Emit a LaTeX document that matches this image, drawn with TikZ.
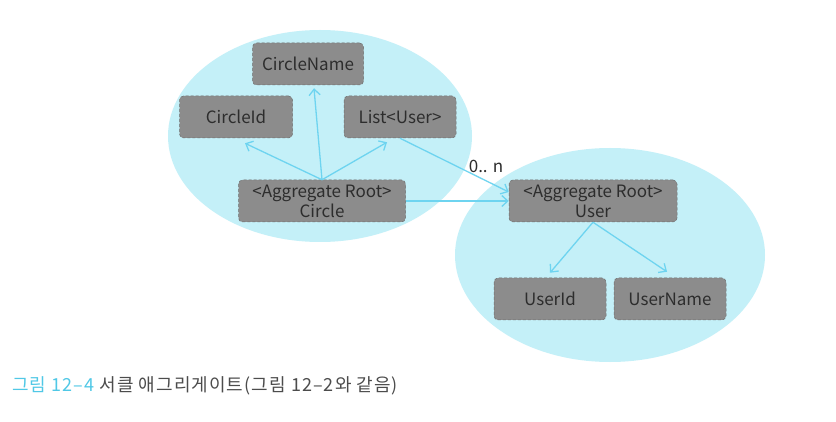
\documentclass[tikz,border=0pt]{standalone}
\usepackage{fontspec}
\setmainfont{Noto Sans CJK KR}
\newfontfamily\captionfont{Noto Sans CJK KR}[LetterSpace=6]
\usetikzlibrary{arrows.meta}
\definecolor{aggcyan}{RGB}{196,240,248}
\definecolor{boxgray}{RGB}{140,140,140}
\definecolor{boxedge}{RGB}{110,110,110}
\definecolor{linkcyan}{RGB}{110,212,240}
\definecolor{captioncyan}{RGB}{80,200,230}
\definecolor{textdark}{RGB}{45,45,45}
\tikzset{
  aggregate/.style={fill=aggcyan},
  entity/.style={
    rectangle,
    rounded corners=4pt,
    fill=boxgray,
    draw=boxedge,
    densely dashed,
    line width=0.5pt,
    minimum height=42pt,
    inner sep=0pt,
    align=center,
    text=textdark,
    font=\fontsize{17}{20}\selectfont
  },
  link/.style={draw=linkcyan, line width=1.3pt, -{Straight Barb[length=6pt,width=11pt]}},
  multiplicity/.style={text=textdark, font=\fontsize{17}{20}\selectfont}
}

\begin{document}
\begin{tikzpicture}[x=1pt,y=-1pt]
  \useasboundingbox (0,0) rectangle (836,422);
  \fill[white] (0,0) rectangle (836,422);
  % Aggregate boundaries
  \fill[aggregate] (320,136) ellipse [x radius=152pt, y radius=106pt];
  \fill[aggregate] (610,255) ellipse [x radius=155pt, y radius=107pt];
  % Circle aggregate
  \node[entity, minimum width=111pt] (circlename) at (308,64) {CircleName};
  \node[entity, minimum width=113pt] (circleid) at (236,117) {CircleId};
  \node[entity, minimum width=112pt] (members) at (400,117) {List<User>};
  \node[entity, minimum width=167pt] (circle) at (322,201) {<Aggregate Root>\\Circle};
  % User aggregate
  \node[entity, minimum width=168pt] (user) at (593,201) {<Aggregate Root>\\User};
  \node[entity, minimum width=112pt] (userid) at (550,299) {UserId};
  \node[entity, minimum width=112pt] (username) at (670,299) {UserName};
  % Links
  \draw[link] (circle.north) -- ([xshift=6pt,yshift=-3pt]circlename.south);
  \draw[link] (circle.north) -- ([xshift=9pt,yshift=-5pt]circleid.south);
  \draw[link] (circle.north) -- ([xshift=-13pt,yshift=-4pt]members.south);
  \draw[link] (circle.east) -- (user.west);
  \draw[link] (members.south) -- ([yshift=9pt]user.west);
  \node[multiplicity] (many) at (486,166) {0.. n};
  \draw[link] (user.south) -- ([yshift=5pt]userid.north);
  \draw[link] (user.south) -- ([xshift=-3pt,yshift=6pt]username.north);
  % Caption
  \node[anchor=west, inner sep=0pt, font=\captionfont\fontsize{18}{21}\selectfont] (caption) at (12,386)
    {\textcolor{captioncyan}{그림 12–4} \textcolor{textdark!85}{서클 애그리게이트(그림 12–2와 같음)}};
\end{tikzpicture}
\end{document}
